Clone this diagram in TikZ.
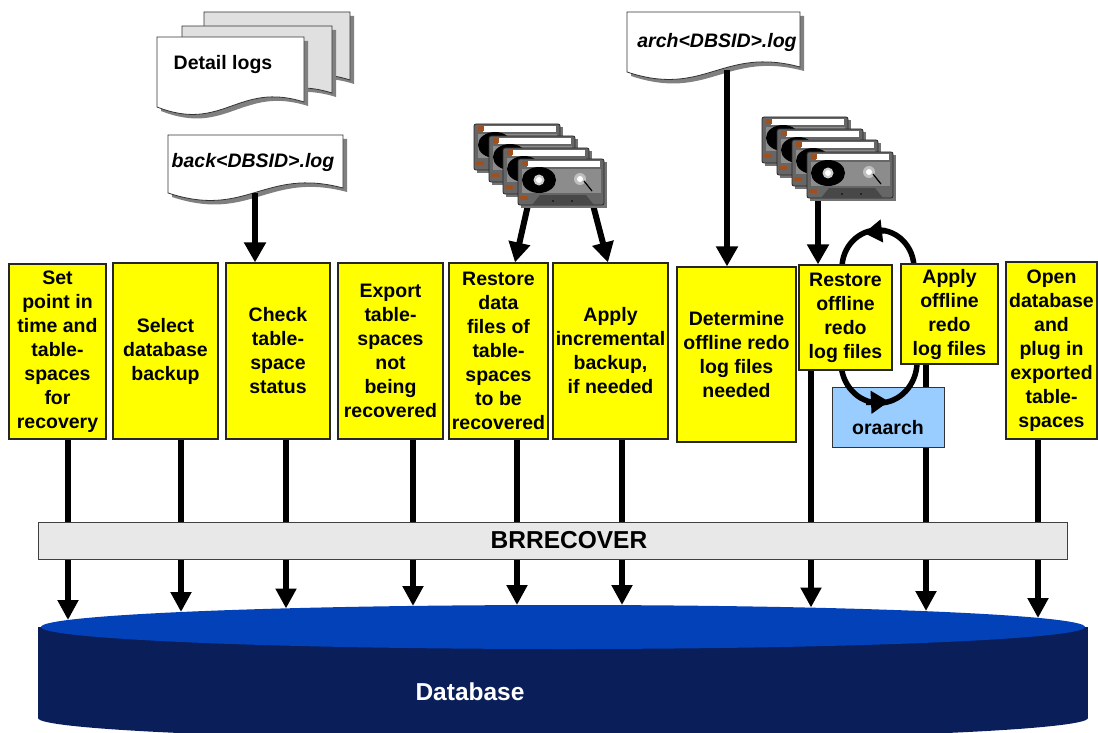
\documentclass[tikz,border=0pt]{standalone}
\usepackage{fontspec}
\setmainfont{Liberation Sans}
\usetikzlibrary{arrows.meta}
\pgfdeclarelayer{lines}
\pgfdeclarelayer{front}
\pgfsetlayers{lines,main,front}

\definecolor{boxyellow}{HTML}{FFFF00}
\definecolor{barfill}{HTML}{E8E8E8}
\definecolor{orablue}{HTML}{99CCFF}
\definecolor{dbtop}{HTML}{0341B8}
\definecolor{dbside}{HTML}{0A1E5A}
\definecolor{pagegray}{HTML}{E0E0E0}
\definecolor{shadowgray}{HTML}{808080}
\definecolor{casbody}{HTML}{666666}
\definecolor{caspanel}{HTML}{8C8C8C}
\definecolor{casdark}{HTML}{484848}
\definecolor{casorange}{HTML}{A0501E}

\newcommand{\boxfont}{\fontsize{19.5}{24}\selectfont\bfseries}
\newcommand{\barfont}{\fontsize{24.5}{28}\selectfont\bfseries}

% a sheet of paper with a wavy lower edge and a drop shadow
% #1 left, #2 top, #3 width, #4 height, #5 fill
\newcommand{\docpage}[5]{%
  \pgfmathsetmacro\dpa{0.45*#3}%
  \fill[shadowgray] (#1+4,#2+4) -- ++(#3,0) -- ++(0,#4-5)
    .. controls +(-\dpa,-21) and +(\dpa,26) .. ++(-#3,5) -- cycle;
  \draw[black!80, line width=0.8pt, fill=#5] (#1,#2) -- ++(#3,0) -- ++(0,#4-5)
    .. controls +(-\dpa,-21) and +(\dpa,26) .. ++(-#3,5) -- cycle;
}

\tikzset{
  ybox/.style={draw=black!85, line width=1.2pt, fill=boxyellow, align=center,
    inner sep=1pt, font=\boxfont},
  doclabel/.style={font=\boxfont, inner sep=0pt},
  flow/.style={line width=5.5pt},
  flowarrow/.style={line width=5.5pt, -{Triangle[width=20pt,length=20pt]}},
  toparrow/.style={line width=6pt, -{Triangle[width=21pt,length=20pt]}},
  cycleline/.style={line width=5.5pt},
  cyclearrow/.style={line width=5.5pt, -{Triangle[width=22pt,length=18pt]}},
  cassette/.pic={
    \fill[black!55] (3,3) rectangle (89,49);
    \draw[black!85, line width=0.8pt, fill=casbody, rounded corners=2pt] (0,0) rectangle (86,46);
    \fill[caspanel] (4,10) rectangle (83,34);
    \fill[white] (9,2.5) rectangle (82,8);
    \fill[casorange] (4,2.5) rectangle (10,7);
    \fill[black] (21,21) ellipse[x radius=17pt, y radius=13pt];
    \fill[black!20] (21,21) circle[radius=5.5pt];
    \fill[white] (21,21) circle[radius=3pt];
    \fill[black!25] (62,20) circle[radius=6pt];
    \fill[white] (62,20) circle[radius=3pt];
    \draw[black, line width=1.2pt] (66,22) -- (74,32);
    \fill[casdark] (14,46) -- (22,36) -- (68,36) -- (76,46) -- cycle;
    \fill[casorange] (2,37) rectangle (10,41);
    \fill[black] (35,42) circle[radius=0.8pt] (54,42) circle[radius=0.8pt];
  }
}

\begin{document}
\begin{tikzpicture}[x=1pt,y=-1pt]
\useasboundingbox (0,0) rectangle (1098,733);

% ---------- process steps ----------
\begin{pgfonlayer}{front}
\node[ybox, minimum width=97pt, minimum height=175pt] (b1) at (57.5,351.5)
  {Set\\point in\\time and\\table-\\spaces\\for\\recovery};
\node[ybox, minimum width=105pt, minimum height=176pt] (b2) at (165.5,351)
  {Select\\database\\backup};
\node[ybox, minimum width=104pt, minimum height=176pt] (b3) at (278,351)
  {Check\\table-\\space\\status};
\node[ybox, minimum width=105pt, minimum height=176pt] (b4) at (390.5,351)
  {Export\\table-\\spaces\\not\\being\\recovered};
\node[ybox, minimum width=99pt, minimum height=176pt] (b5) at (498.5,351)
  {Restore\\data\\files of\\table-\\spaces\\to be\\recovered};
\node[ybox, minimum width=115pt, minimum height=176pt] (b6) at (610.5,351)
  {Apply\\incremental\\backup,\\if needed};
\node[ybox, minimum width=119pt, minimum height=175pt] (b7) at (736.5,354.5)
  {Determine\\offline redo\\log files\\needed};
\node[ybox, minimum width=93pt, minimum height=105pt] (b8) at (845.5,317.5)
  {Restore\\offline\\redo\\log files};
\node[ybox, minimum width=97pt, minimum height=100pt] (b9) at (949.5,314)
  {Apply\\offline\\redo\\log files};
\node[ybox, minimum width=91pt, minimum height=177pt] (b10) at (1051.5,350.5)
  {Open\\database\\and\\plug in\\exported\\table-\\spaces};
\end{pgfonlayer}

% ---------- BRRECOVER bar and the archiver ----------
\node[draw=black!75, line width=1pt, fill=barfill, minimum width=1029pt,
  minimum height=37pt, inner sep=0pt,
  label={[font=\barfont, xshift=16.5pt]center:BRRECOVER}] (bar) at (552.5,540.5) {};
\node[draw=black!80, line width=1pt, fill=orablue, minimum width=112pt,
  minimum height=60pt, inner sep=0pt,
  label={[font=\boxfont, yshift=-11pt]center:oraarch}] (ora) at (888,417) {};

% column positions of the connectors
\coordinate (c1) at (68,0);
\coordinate (c2) at (181,0);
\coordinate (c3) at (286,0);
\coordinate (c4) at (413,0);
\coordinate (c5) at (517,0);
\coordinate (c6) at (622,0);
\coordinate (c8) at (811,0);
\coordinate (c9) at (926,0);
\coordinate (c10) at (1038,0);
% landing points on the database top
\coordinate (d1) at (68,620);
\coordinate (d2) at (181,612);
\coordinate (d3) at (286,608.5);
\coordinate (d4) at (413,606);
\coordinate (d5) at (517,605);
\coordinate (d6) at (622,605);
\coordinate (d8) at (811,607.5);
\coordinate (d9) at (926,611);
\coordinate (d10) at (1038,618);

% ---------- connectors through BRRECOVER ----------
\begin{pgfonlayer}{lines}
\foreach \b/\c/\d in {b1/c1/d1, b2/c2/d2, b3/c3/d3, b4/c4/d4, b5/c5/d5,
                      b6/c6/d6, b8/c8/d8, b9/c9/d9, b10/c10/d10} {
  \draw[flow] (\b.south -| \c) -- (bar.north -| \c);
  \draw[flowarrow] (bar.south -| \c) -- (\d);
}
\end{pgfonlayer}

% ---------- database ----------
\fill[dbside] (38,627) rectangle (1088,718);
\fill[dbside] (563,718) ellipse[x radius=525pt, y radius=22pt];
\fill[dbtop] (563,627) ellipse[x radius=522pt, y radius=22pt];
\node[font=\barfont, text=white] (db) at (470,692) {Database};

% ---------- log files ----------
\docpage{204}{12}{146}{73}{pagegray}
\docpage{182}{26}{150}{72}{pagegray}
\docpage{157}{37}{147}{70}{white}
\node[doclabel] (detail) at (223,65) {Detail logs};

\docpage{168}{135}{175}{58}{white}
\node[doclabel, font=\boxfont\itshape] (backlog) at (253,162) {back<DBSID>.log};
\coordinate (backbot) at (255,193);

\docpage{627}{12}{173}{60}{white}
\node[doclabel, font=\boxfont\itshape] (archlog) at (717,42) {arch<DBSID>.log};
\coordinate (archbot) at (727,70);

% ---------- arrows into the steps ----------
\coordinate (t1l) at (528,205);
\coordinate (t1le) at (515,0);
\coordinate (t1r) at (593,205);
\coordinate (t1re) at (608,0);
\coordinate (t2) at (818,196);

\draw[toparrow] (backbot) -- (backbot |- b3.north);
\draw[toparrow] (archbot) -- (archbot |- b7.north);
\draw[toparrow] (t1l) -- (b5.north -| t1le);
\draw[toparrow] (t1r) -- (b6.north -| t1re);
\draw[toparrow] (t2) -- (t2 |- b8.north);

% ---------- tape stacks ----------
\pic at (474,124) {cassette};
\pic at (489,136) {cassette};
\pic at (503,148) {cassette};
\pic at (518,159) {cassette};

\pic at (762,117) {cassette};
\pic at (777,129) {cassette};
\pic at (792,140) {cassette};
\pic at (807,152) {cassette};

% ---------- restore / apply cycle ----------
\draw[cycleline] (914,268) arc[start angle=0, end angle=180, x radius=36pt, y radius=38pt];
\draw[cycleline] (841,362) arc[start angle=180, end angle=360, x radius=38pt, y radius=41pt];
\coordinate (cyctop) at (886,230.5);
\coordinate (cyctoptip) at (864,233);
\coordinate (cycbot) at (866,402.5);
\coordinate (cycbottip) at (889,401.5);
\draw[cyclearrow] (cyctop) -- (cyctoptip);
\draw[cyclearrow] (cycbot) -- (cycbottip);
\end{tikzpicture}
\end{document}
